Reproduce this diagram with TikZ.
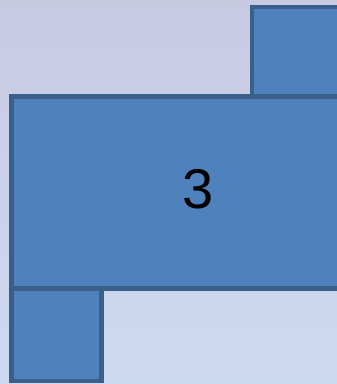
\documentclass[tikz,border=0pt]{standalone}
\usepackage{fontspec}
\setmainfont{Liberation Sans}
\definecolor{bgtop}{HTML}{C8CAE2}
\definecolor{bgbot}{HTML}{CCDAF0}
\definecolor{boxfill}{HTML}{4F81BD}
\definecolor{boxline}{HTML}{3A5F8B}
\begin{document}
\begin{tikzpicture}[x=1pt,y=-1pt,
  blk/.style={fill=boxfill,draw=boxline,line width=4.5pt}]
\useasboundingbox (0,0) rectangle (337,384);
\shade[top color=bgtop,bottom color=bgbot] (0,0) rectangle (337,384);
\begin{scope}
\clip (0,0) rectangle (337,384);
\draw[blk] (252,7) rectangle (345,97) coordinate (tr);
\draw[blk] (11.5,289) rectangle (101.5,381);
\draw[blk] (11.5,96.5) rectangle (345,288.5);
\end{scope}
\node[font=\fontsize{56}{60}\selectfont] (three) at (198,189) {3};
\end{tikzpicture}
\end{document}
